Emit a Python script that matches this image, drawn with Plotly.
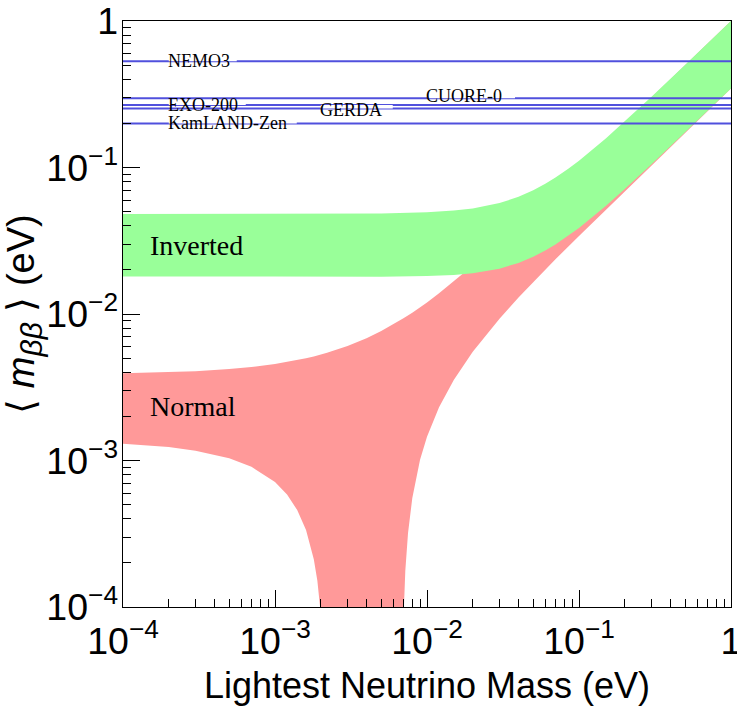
import math
import plotly.graph_objects as go

# ---- Normal hierarchy band (lightest mass m1, eV) ----
nh_upper_m = [1e-4, 2e-4, 3e-4, 5e-4, 7e-4, 1e-3, 1.2e-3, 1.4e-3, 1.6e-3, 1.8e-3, 2e-3, 2.2e-3,
              3e-3, 4e-3, 5e-3, 6e-3, 7e-3, 8e-3, 9e-3, 1e-2, 1.2e-2, 1.5e-2, 2e-2, 3e-2,
              4e-2, 5e-2, 7e-2, 0.1, 0.15, 0.2, 0.3, 0.5, 0.7, 1.0]
nh_upper = [0.003935, 0.004003, 0.004071, 0.004208, 0.004347, 0.004558, 0.004700, 0.004844,
            0.004989, 0.005135, 0.005283, 0.005432, 0.006041, 0.006828, 0.007643, 0.008480,
            0.009337, 0.01021, 0.01110, 0.01200, 0.01383, 0.01663, 0.02139, 0.03108,
            0.04088, 0.05074, 0.07056, 0.1004, 0.1503, 0.2002, 0.3001, 0.5001, 0.7001, 1.0]
nh_lower_m = [1e-4, 2e-4, 3e-4, 5e-4, 7e-4, 1e-3, 1.2e-3, 1.4e-3, 1.6e-3, 1.8e-3, 1.9e-3, 2e-3,
              2.1e-3, 7e-3, 7.2e-3, 7.5e-3, 8e-3, 9e-3, 1e-2, 1.2e-2, 1.5e-2, 2e-2, 3e-2,
              4e-2, 5e-2, 7e-2, 0.1, 0.15, 0.2, 0.3, 0.5, 0.7, 1.0]
nh_lower = [0.001300, 0.001234, 0.001167, 0.001035, 0.000905, 0.000712, 0.000585, 0.000459,
            0.000335, 0.000212, 0.000151, 0.0000900, 0.0000295, 0.0000813, 0.000177, 0.000319,
            0.000553, 0.00101, 0.00145, 0.00231, 0.00355, 0.00552, 0.00929, 0.01294,
            0.01653, 0.02362, 0.03414, 0.05155, 0.06889, 0.1035, 0.1727, 0.2418, 0.3455]

# ---- Inverted hierarchy band (lightest mass m3, eV) ----
ih_m = [1e-4, 1e-3, 5e-3, 1e-2, 1.5e-2, 2e-2, 3e-2, 4e-2, 5e-2, 6e-2, 7e-2, 8.5e-2,
        0.1, 0.15, 0.2, 0.3, 0.5, 0.7, 1.0]
ih_upper = [0.04824, 0.04828, 0.04861, 0.04947, 0.05079, 0.05253, 0.05717, 0.06303, 0.06983,
            0.07733, 0.08533, 0.09802, 0.1113, 0.1578, 0.2059, 0.3040, 0.5024, 0.7017, 1.0012]
ih_lower = [0.01801, 0.01800, 0.01799, 0.01814, 0.01848, 0.01898, 0.02037, 0.02233, 0.02459,
            0.02711, 0.02983, 0.03416, 0.03870, 0.05467, 0.07126, 0.1051, 0.1736, 0.2425, 0.3459]

# ---- Experimental limits (eV) ----
exp_names = ["NEMO3", "CUORE-0", "EXO-200", "GERDA", "KamLAND-Zen"]
exp_limits = [0.531, 0.297, 0.267, 0.253, 0.200]
exp_label_x = [2e-4, 1e-2, 2e-4, 2e-3, 2e-4]

band_labels = ["Inverted", "Normal"]
band_label_x = [1.45e-4, 1.45e-4]
band_label_y = [0.0295, 0.00232]

x_range = [1e-4, 1.0]
y_range = [1e-4, 1.0]

RED = "#ff9999"
GREEN = "#99ff99"
BLUE = "#5050dd"
SERIF = "Liberation Serif, Times New Roman, serif"
SANS = "Liberation Sans, Arial, Helvetica, sans-serif"

fig = go.Figure()

fig.add_trace(go.Scatter(
    x=nh_upper_m + nh_lower_m[::-1], y=nh_upper + nh_lower[::-1],
    mode="lines", fill="toself", fillcolor=RED, line=dict(width=0, color=RED),
    hoverinfo="skip", showlegend=False))
fig.add_trace(go.Scatter(
    x=ih_m + ih_m[::-1], y=ih_upper + ih_lower[::-1],
    mode="lines", fill="toself", fillcolor=GREEN, line=dict(width=0, color=GREEN),
    hoverinfo="skip", showlegend=False))

for name, lim in zip(exp_names, exp_limits):
    fig.add_trace(go.Scatter(x=x_range, y=[lim, lim], mode="lines",
                             line=dict(color=BLUE, width=2), hoverinfo="skip", showlegend=False))

# white gaps behind the experiment labels (pixel extents relative to label anchor)
gap_x = {"NEMO3": (-7, 68), "CUORE-0": (-2, 88), "EXO-200": (-7, 77), "GERDA": (-12, 72),
         "KamLAND-Zen": (-7, 128)}
gap_y = {"NEMO3": (-4, 4), "CUORE-0": (-3.5, 3.5), "EXO-200": (-7.5, 3.5), "GERDA": (-7.5, 3.5),
         "KamLAND-Zen": (-4.5, 4.5)}
label_shift = {"NEMO3": 0, "CUORE-0": 2, "EXO-200": 0, "GERDA": -1.5, "KamLAND-Zen": 0}

for name, lim, lx in zip(exp_names, exp_limits, exp_label_x):
    gx, gy = gap_x[name], gap_y[name]
    fig.add_shape(type="rect", xref="x", yref="y", xsizemode="pixel", ysizemode="pixel",
                  xanchor=lx, yanchor=lim, x0=gx[0], x1=gx[1], y0=gy[0], y1=gy[1],
                  fillcolor="white", line=dict(width=0), layer="above")
    fig.add_annotation(x=math.log10(lx), y=math.log10(lim), xref="x", yref="y", text=name,
                       showarrow=False, xanchor="left", yanchor="middle",
                       xshift=-3, yshift=label_shift[name],
                       font=dict(family=SERIF, size=18, color="black"))

for t, bx, by in zip(band_labels, band_label_x, band_label_y):
    fig.add_annotation(x=math.log10(bx), y=math.log10(by), xref="x", yref="y", text=t,
                       showarrow=False, xanchor="left", yanchor="middle",
                       font=dict(family=SERIF, size=28, color="black"))

axis_common = dict(
    type="log", dtick=1, exponentformat="power", showexponent="all",
    ticks="inside", ticklen=17, tickwidth=1, tickcolor="black",
    showline=True, linecolor="black", linewidth=1, mirror=True,
    showgrid=False, zeroline=False, ticklabeloverflow="allow",
    tickfont=dict(family=SANS, size=30, color="black"),
    minor=dict(ticks="inside", ticklen=8, dtick="D1", tickcolor="black", tickwidth=1, showgrid=False),
)

y_title = ("⟨ <i>m</i><sub><span style='font-size:30px'><i>ββ</i></span></sub> ⟩ (eV)")

fig.update_xaxes(range=[math.log10(x_range[0]), math.log10(x_range[1])],
                 ticklabelstandoff=2,
                 title=dict(text="Lightest Neutrino Mass (eV)", standoff=12,
                            font=dict(family=SANS, size=36, color="black")),
                 **axis_common)
fig.update_yaxes(range=[math.log10(y_range[0]), math.log10(y_range[1])],
                 ticklabelstandoff=-2,
                 title=dict(text=y_title, standoff=3,
                            font=dict(family=SANS, size=38, color="black")),
                 **axis_common)

fig.update_layout(
    width=737, height=717,
    margin=dict(l=123, r=6, t=21, b=110, autoexpand=False),
    paper_bgcolor="white", plot_bgcolor="white",
    showlegend=False,
)

fig.write_html("out.html", config={"displayModeBar": False},
               post_script="document.body.style.margin='0';document.body.style.overflow='hidden';")
